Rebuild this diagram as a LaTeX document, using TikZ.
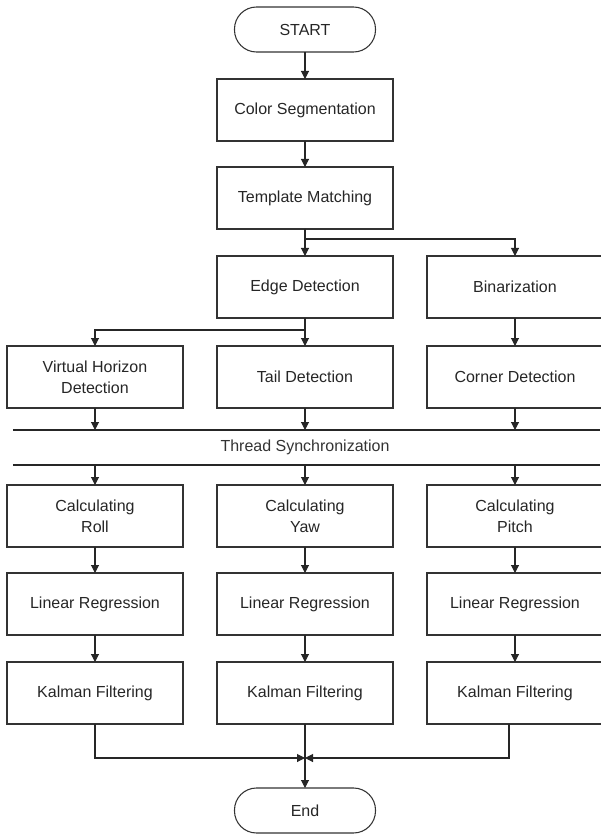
\documentclass[tikz,border=0pt]{standalone}
\usepackage{fontspec}
\setmainfont{Liberation Sans}
\usepackage{tikz}
\usetikzlibrary{positioning,shapes,arrows}
\usetikzlibrary{arrows.meta}
\tikzstyle{term}=[%
      rectangle, rounded corners=16.5pt, draw=black!80, line width=0.8pt, fill=none,
      text=black!85, minimum height=33.75pt, minimum width=105.75pt, inner sep=2pt, outer sep=0pt, align=center
]
\tikzstyle{proc}=[%
      rectangle, draw=black!80, line width=0.8pt, fill=none,
      text=black!85, minimum height=46.5pt, minimum width=132pt, inner sep=2pt, outer sep=0pt, align=center
]
\tikzstyle{arr}=[%
      -{Triangle[length=6pt,width=6pt]}, draw=black!85, line width=0.8pt
]
\tikzstyle{syncline}=[%
      draw=black!85, line width=1pt
]

\begin{document}
\begin{tikzpicture}[font=\fontsize{12}{15.5}\selectfont]
\useasboundingbox (-228.75pt,22.125pt) rectangle (221.25pt,-603.375pt);

\node[term](st){START};
\node[proc, below=20.25pt of st](cs){Color Segmentation};
\node[proc, below=19.5pt of cs](tm){Template Matching};
\node[proc, below=20.25pt of tm](ed){Edge Detection};
\node[proc, right=25.5pt of ed](bi){Binarization};
\node[proc, below=21pt of ed](td){Tail Detection};
\node[proc, left=25.5pt of td](vh){Virtual Horizon\\Detection};
\node[proc, right=25.5pt of td](cd){Corner Detection};

% thread synchronization
\coordinate[below=16.5pt of td](s1);
\coordinate[below=26.25pt of s1](s2);
\node[text=black!80](ts) at ([yshift=-12.75pt]s1){Thread Synchronization};
\draw[syncline] ([xshift=-219pt]s1) -- ([xshift=221.25pt]s1);
\draw[syncline] ([xshift=-219pt]s2) -- ([xshift=221.25pt]s2);

\node[proc, below=15pt of s2](cy){Calculating\\Yaw};
\node[proc, left=25.5pt of cy](cr){Calculating\\Roll};
\node[proc, right=25.5pt of cy](cp){Calculating\\Pitch};
\node[proc, below=19.5pt of cr](lr){Linear Regression};
\node[proc, below=19.5pt of cy](ly){Linear Regression};
\node[proc, below=19.5pt of cp](lp){Linear Regression};
\node[proc, below=20.25pt of lr](kr){Kalman Filtering};
\node[proc, below=20.25pt of ly](ky){Kalman Filtering};
\node[proc, below=20.25pt of lp](kp){Kalman Filtering};
\coordinate[below=25.5pt of ky](mg);
\node[term, below=48pt of ky](en){End};

\draw[arr](st) -- (cs);
\draw[arr](cs) -- (tm);
\draw[arr](tm) -- (ed);
\draw[arr](tm.south) -- ++(0,-7.5pt) -| (bi.north);
\draw[arr](ed) -- (td);
\draw[arr](ed.south) -- ++(0,-9pt) -| (vh.north);
\draw[arr](bi) -- (cd);

\draw[arr](vh.south) -- (vh.south |- s1);
\draw[arr](td.south) -- (s1);
\draw[arr](cd.south) -- (cd.south |- s1);
\draw[arr](cr.north |- s2) -- (cr.north);
\draw[arr](s2) -- (cy.north);
\draw[arr](cp.north |- s2) -- (cp.north);

\draw[arr](cr) -- (lr);
\draw[arr](cy) -- (ly);
\draw[arr](cp) -- (lp);
\draw[arr](lr) -- (kr);
\draw[arr](ly) -- (ky);
\draw[arr](lp) -- (kp);

\draw[arr](kr.south) |- (mg);
\draw[arr]([xshift=-4.5pt]kp.south) |- (mg);
\draw[arr](ky) -- (en);
\end{tikzpicture}
\end{document}
